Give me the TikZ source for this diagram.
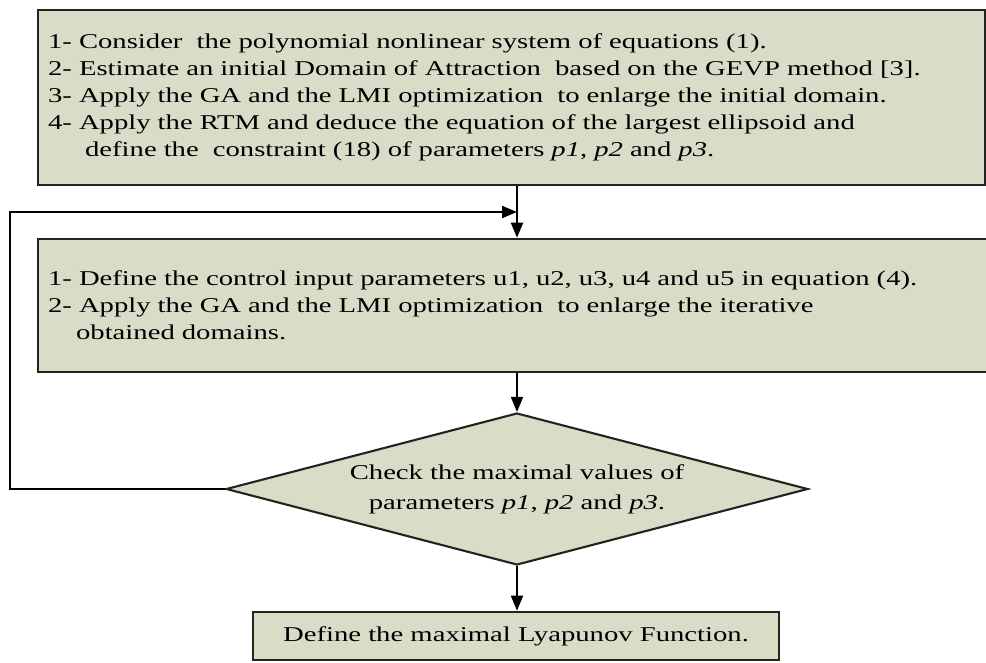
\documentclass[tikz,border=0pt]{standalone}
\usepackage{fontspec}
\setmainfont{Liberation Serif}[FakeStretch=1.36]
\usepackage{tikz}
\usepackage{xcolor}
\usetikzlibrary{calc}
\usetikzlibrary{arrows.meta}
\usetikzlibrary{shapes.geometric}
\definecolor{boxfill}{RGB}{216,221,200}
\definecolor{boxline}{RGB}{34,36,32}

\begin{document}
\begin{tikzpicture}[x=0.02cm, y=-0.02cm,
		procbox/.style={draw=boxline, line width=1.5pt, fill=boxfill, rectangle, inner sep=0pt,
			font=\fontsize{12}{15.3}\selectfont},
		decbox/.style={draw=boxline, line width=1.2pt, fill=boxfill, diamond, aspect=3.83, inner sep=0pt,
			font=\fontsize{12}{17}\selectfont, align=center},
		arr/.style={draw=black, line width=1.1pt, -{Triangle[length=0.3cm, width=0.24cm]}}]
		\useasboundingbox (0,0) rectangle (986,662);
		\clip (0,0) rectangle (986,662);
		% boxes
		\node[procbox, minimum width=18.94cm, minimum height=3.5cm, text width=18.54cm, align=left] (init) at (511.5,97.5)
			{1- Consider\ \ the polynomial nonlinear system of equations (1).\\
			2- Estimate an initial Domain of Attraction\ \ based on the GEVP method [3].\\
			3- Apply the GA and the LMI optimization\ \ to enlarge the initial domain.\\
			4- Apply the RTM and deduce the equation of the largest ellipsoid and\\
			\hspace*{0.74cm}define the\ \ constraint (18) of parameters \textit{p1}, \textit{p2} and \textit{p3}.\\[0.24cm]};
		\node[procbox, minimum width=19.08cm, minimum height=2.66cm, text width=18.68cm, align=left] (iter) at (515,305.5)
			{1- Define the control input parameters u1, u2, u3, u4 and u5 in equation (4).\\
			2- Apply the GA and the LMI optimization\ \ to enlarge the iterative\\
			\hspace*{0.56cm}obtained domains.};
		\node[decbox, minimum width=11.64cm, minimum height=3.04cm] (check) at (517,489)
			{Check the maximal values of\\ parameters \textit{p1}, \textit{p2} and \textit{p3}.};
		\node[procbox, minimum width=10.52cm, minimum height=0.96cm] (final) at (516,636)
			{Define the maximal Lyapunov Function.};
		% connectors
		\coordinate (back) at (10,489);
		\coordinate (junc) at (517,212);
		\draw[arr] (init.south -| check.north) -- (iter.north -| check.north);
		\draw[arr] (iter.south -| check.north) -- (check.north);
		\draw[arr] (check.south) -- (final.north -| check.south);
		\draw[arr] (check.west) -- (back) |- (junc);
\end{tikzpicture}
\end{document}
